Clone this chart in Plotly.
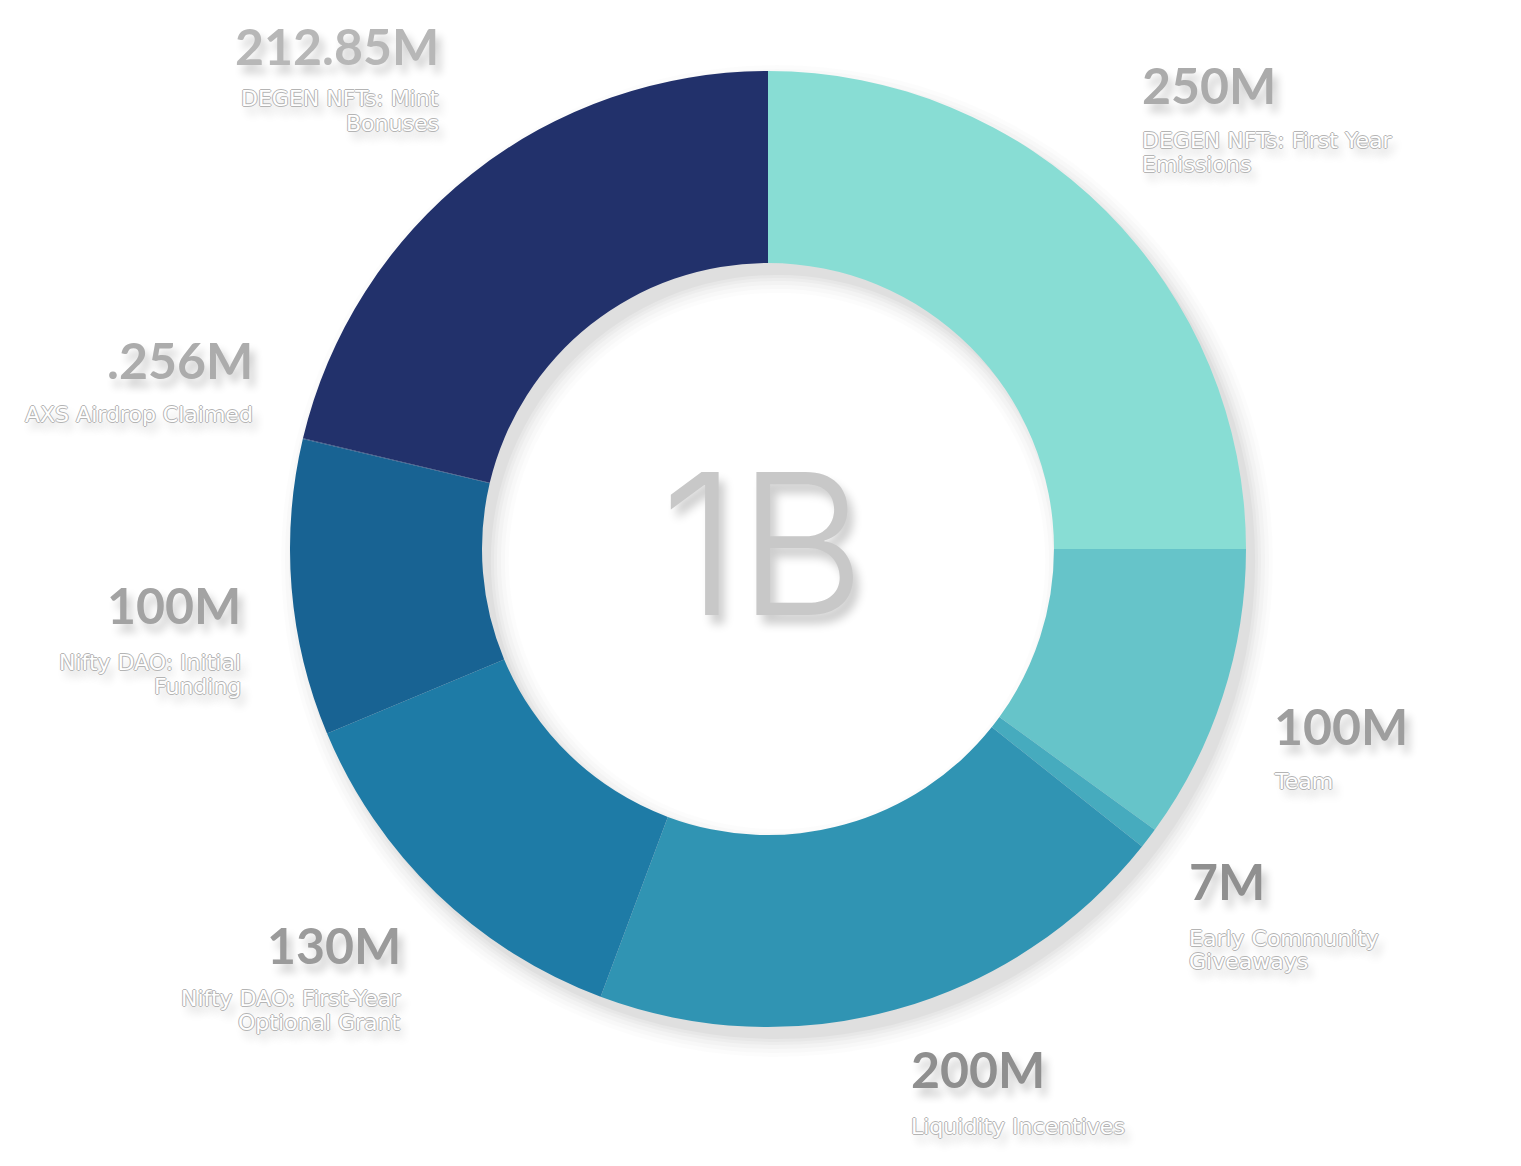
import plotly.graph_objects as go

W, H = 1521, 1166

categories = ["DEGEN NFTs: First Year Emissions", "Team", "Early Community Giveaways",
              "Liquidity Incentives", "Nifty DAO: First-Year Optional Grant",
              "Nifty DAO: Initial Funding", "AXS Airdrop Claimed", "DEGEN NFTs: Mint Bonuses"]
values = [250, 100, 7, 200, 130, 100, 0.256, 212.85]
value_labels = ["250M", "100M", "7M", "200M", "130M", "100M", ".256M", "212.85M"]
subtitles = [["DEGEN NFTs: First Year", "Emissions"], ["Team"], ["Early Community", "Giveaways"],
             ["Liquidity Incentives"], ["Nifty DAO: First-Year", "Optional Grant"],
             ["Nifty DAO: Initial", "Funding"], ["AXS Airdrop Claimed"], ["DEGEN NFTs: Mint", "Bonuses"]]
colors = ["#88ddd4", "#66c4c9", "#46abbe", "#3094b3", "#1e7ba6", "#186393", "#1c4a80", "#22316b"]
total_label = "1B"

# layout helpers (pixel geometry)
CX, CY, R, RIN = 768, 549, 478, 286

def dom(cx, cy, r):
    return dict(x=[(cx - r) / W, (cx + r) / W], y=[1 - (cy + r) / H, 1 - (cy - r) / H])

fig = go.Figure()

# fake soft drop shadow of the ring
for k, op in [(18, 0.012), (14, 0.015), (10, 0.018), (6, 0.022), (3, 0.025), (0, 0.03)]:
    fig.add_trace(go.Pie(values=[1], marker=dict(colors=[f"rgba(0,0,0,{op})"], line=dict(width=0)),
                         hole=(RIN - k) / (R + k), domain=dom(CX + 9, CY + 12, R + k),
                         textinfo="none", hoverinfo="skip", sort=False, showlegend=False))

fig.add_trace(go.Pie(
    labels=categories, values=values, hole=RIN / R, sort=False, direction="clockwise",
    rotation=0, marker=dict(colors=colors, line=dict(width=0)),
    textinfo="none", domain=dom(CX, CY, R), showlegend=False,
))

# label placement (pixel anchors): x, number centre y, first subtitle line y, anchor, colour
label_pos = [
    (1140, 85, 141, "left", "#ababab"),
    (1272, 726, 781, "left", "#9e9e9e"),
    (1187, 881, 938, "left", "#909090"),
    (909, 1069, 1126, "left", "#8f8f8f"),
    (403, 945, 998, "right", "#9b9b9b"),
    (243, 605, 662, "right", "#a3a3a3"),
    (255, 360, 414, "right", "#acacac"),
    (441, 46, 99, "right", "#b7b7b7"),
]
LINE = 24

num_shadow = "5px 8px 9px rgba(0,0,0,0.2)"
oc = "#b4b4b4"
sub_shadow = (f"1px 0 0 {oc}, -1px 0 0 {oc}, 0 1px 0 {oc}, 0 -1px 0 {oc}, "
              "5px 8px 9px rgba(0,0,0,0.18)")

for (x, yn, ys, anc, col), vl, st in zip(label_pos, value_labels, subtitles):
    fig.add_annotation(x=x / W, y=1 - yn / H, xref="paper", yref="paper", text=f"<b>{vl}</b>",
                       showarrow=False, xanchor=anc, yanchor="middle", align=anc,
                       font=dict(family="Lato", size=50, color=col, shadow=num_shadow))
    for j, line in enumerate(st):
        fig.add_annotation(x=x / W, y=1 - (ys + j * LINE) / H, xref="paper", yref="paper", text=line,
                           showarrow=False, xanchor=anc, yanchor="middle", align=anc,
                           font=dict(family="DejaVu Sans", size=22, color="white",
                                     shadow=sub_shadow))

fig.add_annotation(x=762 / W, y=1 - 543 / H, xref="paper", yref="paper", text=total_label,
                   showarrow=False, xanchor="center", yanchor="middle",
                   font=dict(family="Inter", size=197, weight=300, color="#c8c8c8",
                             shadow="6px 9px 10px rgba(0,0,0,0.2)"))

fig.update_layout(width=W, height=H, margin=dict(l=0, r=0, t=0, b=0),
                  paper_bgcolor="white", plot_bgcolor="white")

fig.write_html("out.html")
